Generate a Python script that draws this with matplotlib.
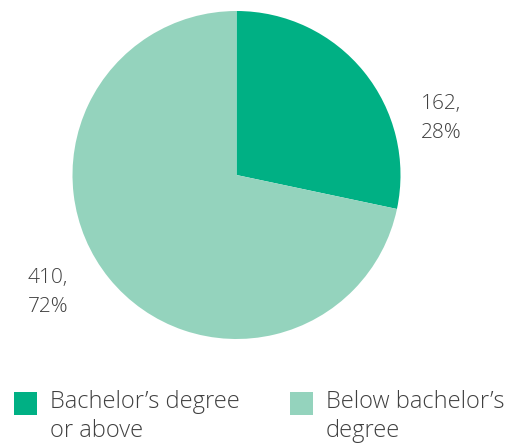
import matplotlib
matplotlib.use("Agg")
import matplotlib.pyplot as plt
from matplotlib.patches import Rectangle

categories = ["Bachelor\u2019s degree\nor above", "Below bachelor\u2019s\ndegree"]
counts = [162, 410]
percents = [28, 72]
colors = ["#00B084", "#94D3BD"]
text_color = "#404040"

plt.rcParams["font.family"] = ["Open Sans", "DejaVu Sans"]

W, H = 510, 447
fig = plt.figure(figsize=(W / 100, H / 100), dpi=100)

cx, cy, r = 236.5, 175, 164
ax = fig.add_axes([(cx - r) / W, (H - cy - r) / H, 2 * r / W, 2 * r / H])
ax.pie(counts, colors=colors, startangle=90, counterclock=False, radius=1,
       wedgeprops=dict(linewidth=0))
ax.set_xlim(-1, 1)
ax.set_ylim(-1, 1)
ax.set_aspect("equal")
ax.axis("off")

# value labels beside each wedge
label_pos = [(421, 118), (28, 293)]
for (x, y), c, p in zip(label_pos, counts, percents):
    fig.text(x / W, 1 - y / H, f"{c},\n{p}%", ha="left", va="center",
             fontsize=15, color=text_color, linespacing=1.6, fontweight=300)

# legend
legend_x = [14, 290]
for lx, lab, col in zip(legend_x, categories, colors):
    fig.patches.append(Rectangle((lx / W, 1 - 415 / H), 23 / W, 23 / H,
                                 transform=fig.transFigure, facecolor=col,
                                 edgecolor="none"))
    fig.text((lx + 36) / W, 1 - 390 / H, lab, ha="left", va="top",
             fontsize=17, color=text_color, linespacing=1.3, fontweight=300)

fig.savefig("out.png", dpi=100)
